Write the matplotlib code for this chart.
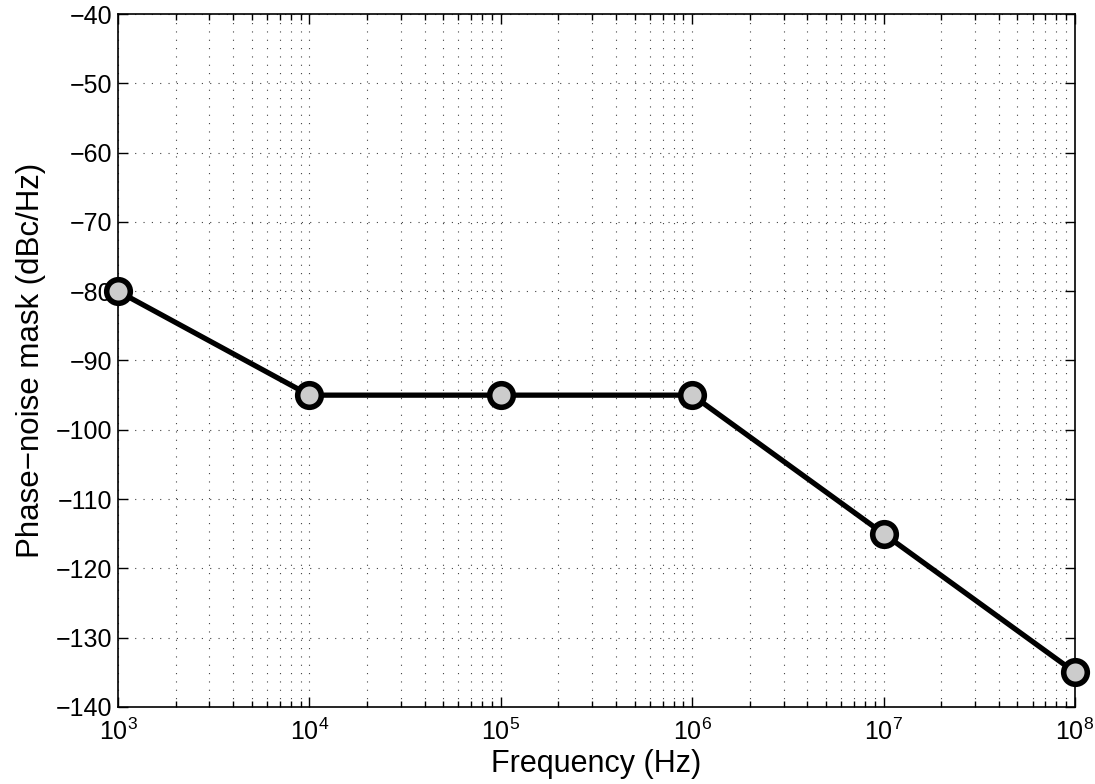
import math
import matplotlib
matplotlib.use("Agg")
import matplotlib.pyplot as plt
from matplotlib.ticker import LogLocator, FuncFormatter, NullFormatter

plt.rcParams['font.family'] = ['Liberation Sans', 'DejaVu Sans']
plt.rcParams['mathtext.fontset'] = 'custom'
plt.rcParams['mathtext.rm'] = 'Liberation Sans'
plt.rcParams['mathtext.it'] = 'Liberation Sans'
plt.rcParams['mathtext.bf'] = 'Liberation Sans'

freq = [1e3, 1e4, 1e5, 1e6, 1e7, 1e8]
mask = [-80, -95, -95, -95, -115, -135]
yticks = [-140, -130, -120, -110, -100, -90, -80, -70, -60, -50, -40]

fig = plt.figure(figsize=(10.95, 7.84), dpi=100)
ax = fig.add_axes([118/1095, 77/784, (1075-118)/1095, (707-14)/784])

ax.semilogx(freq, mask, color='black', linewidth=3.8, marker='o',
            markersize=17, markerfacecolor='#cccccc', markeredgecolor='black',
            markeredgewidth=4, zorder=5, clip_on=False)

ax.set_xlim(1e3, 1e8)
ax.set_ylim(-140, -40)
ax.set_yticks(yticks)
ax.xaxis.set_major_locator(LogLocator(base=10, numticks=20))
ax.xaxis.set_minor_locator(LogLocator(base=10, subs=range(2, 10), numticks=100))
ax.xaxis.set_minor_formatter(NullFormatter())
ax.xaxis.set_major_formatter(FuncFormatter(lambda v, p: r'$10^{%d}$' % round(math.log10(v))))

ax.grid(True, which='major', linestyle=(0, (1, 6.5)), color='black', linewidth=0.8, alpha=0.75)
ax.grid(True, which='minor', axis='x', linestyle=(0, (1, 6.5)), color='black', linewidth=0.8, alpha=0.75)

ax.tick_params(which='both', direction='in', top=True, right=True, labelsize=18)
ax.tick_params(axis='y', pad=4)
ax.tick_params(axis='x', pad=8)
ax.tick_params(which='major', length=7, width=1)
ax.tick_params(which='minor', length=4, width=1)
for s in ax.spines.values():
    s.set_linewidth(1.2)

ax.set_xlabel('Frequency (Hz)', fontsize=22, labelpad=3)
ax.set_ylabel('Phase\u2212noise mask (dBc/Hz)', fontsize=22.5, labelpad=7)

fig.savefig('out.png', dpi=100)
